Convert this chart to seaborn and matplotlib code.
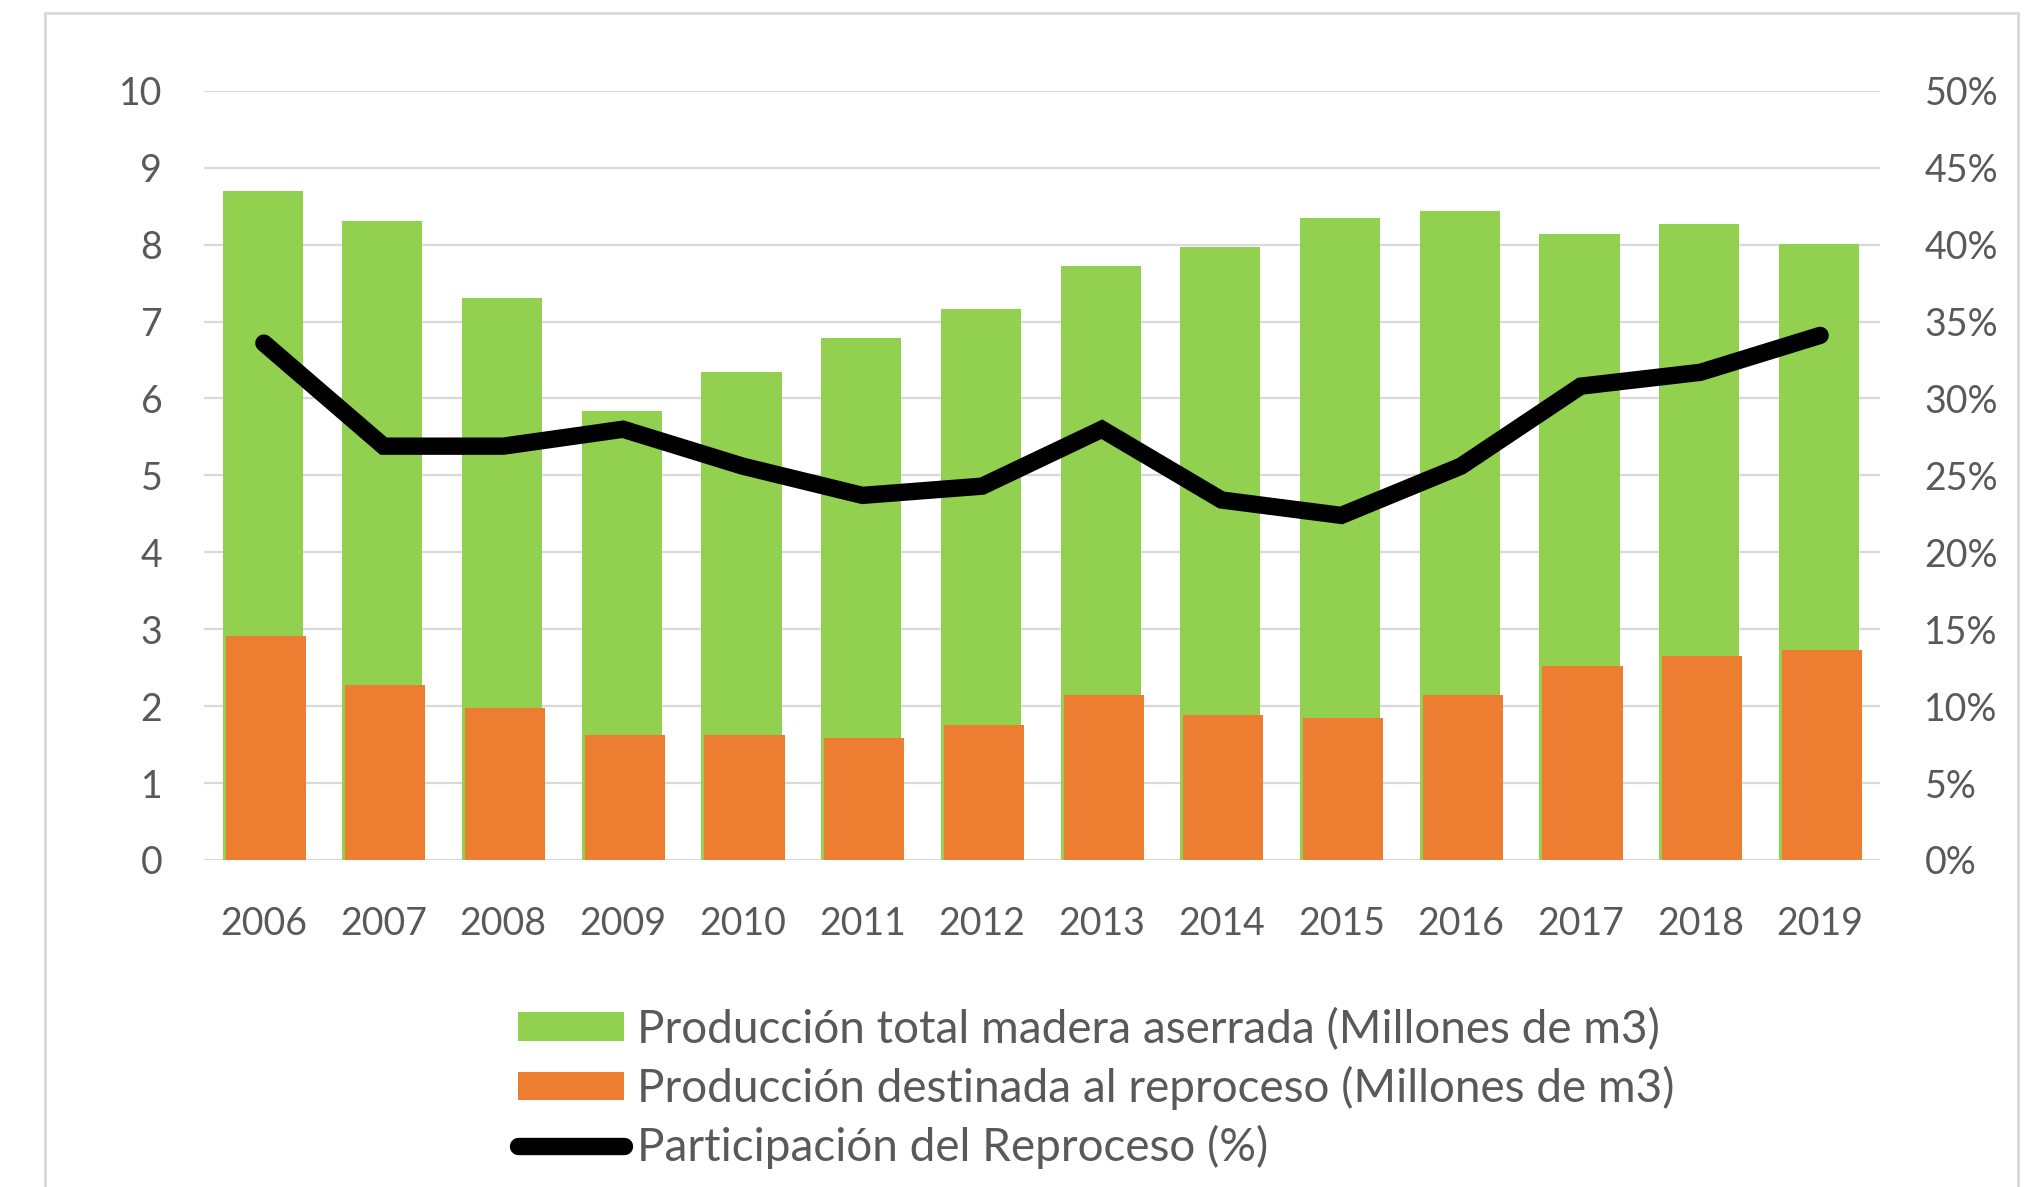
import numpy as np
import pandas as pd
import seaborn as sns
import matplotlib.pyplot as plt
from matplotlib.patches import Rectangle
from matplotlib.ticker import PercentFormatter

years = ['2006', '2007', '2008', '2009', '2010', '2011', '2012',
         '2013', '2014', '2015', '2016', '2017', '2018', '2019']
total = [8.70, 8.31, 7.30, 5.84, 6.35, 6.78, 7.16,
         7.72, 7.97, 8.35, 8.44, 8.14, 8.27, 8.01]
reproceso = [2.91, 2.27, 1.97, 1.62, 1.62, 1.59, 1.75,
             2.14, 1.89, 1.84, 2.14, 2.52, 2.65, 2.73]
participacion = [33.6, 26.9, 26.9, 28.0, 25.6, 23.7, 24.3,
                 28.0, 23.4, 22.4, 25.6, 30.8, 31.7, 34.1]

lab_total = 'Producción total madera aserrada (Millones de m3)'
lab_rep = 'Producción destinada al reproceso (Millones de m3)'
lab_part = 'Participación del Reproceso (%)'

df = pd.DataFrame({'year': years, 'total': total, 'rep': reproceso,
                   'part': np.array(participacion) / 100})

sns.set_style('white')
plt.rcParams['font.family'] = ['Lato', 'DejaVu Sans']

green = '#92D050'
orange = '#ED7D31'
grid = '#D9D9D9'
txt = '#595959'

fig = plt.figure(figsize=(20.3, 11.87), dpi=100)
ax = fig.add_axes([0.1005, 0.2755, 0.8256, 0.648])

sns.barplot(data=df, x='year', y='total', color=green, width=0.67,
            saturation=1, ax=ax, linewidth=0, edgecolor='none')
sns.barplot(data=df, x='year', y='rep', color=orange, width=0.67,
            saturation=1, ax=ax, linewidth=0, edgecolor='none')
# Excel-like slight overlap offset
for p in ax.containers[0]:
    p.set_x(p.get_x() - 0.01)
for p in ax.containers[1]:
    p.set_x(p.get_x() + 0.015)

ax.set_xlim(-0.5, len(years) - 0.5)
ax.set_ylim(0, 10)
ax.set_yticks(range(0, 11))
ax.yaxis.grid(True, color=grid, linewidth=1.6)
ax.set_axisbelow(True)
ax.set_xlabel('')
ax.set_ylabel('')
sns.despine(ax=ax, left=True, bottom=True)
ax.tick_params(axis='y', length=0, pad=30, labelsize=27, labelcolor=txt)
ax.tick_params(axis='x', length=0, pad=33, labelsize=27, labelcolor=txt)

ax2 = ax.twinx()
sns.lineplot(x=np.arange(len(years)), y=df['part'], color='black',
             linewidth=12.5, ax=ax2, solid_capstyle='round',
             solid_joinstyle='miter', legend=False)
ax2.set_ylim(0, 0.5)
ax2.set_yticks(np.arange(0, 0.51, 0.05))
ax2.yaxis.set_major_formatter(PercentFormatter(1.0, decimals=0))
ax2.set_ylabel('')
sns.despine(ax=ax2, left=True, bottom=True, right=True)
ax2.tick_params(axis='y', length=0, pad=32, labelsize=27, labelcolor=txt)
ax2.grid(False)

# outer chart frame
fig.patches.append(Rectangle((0.0222, -0.05), 0.9718, 1.0394,
                             transform=fig.transFigure, fill=False,
                             edgecolor=grid, linewidth=2))

handles = [ax.containers[0], ax.containers[1], ax2.lines[0]]
labels = [lab_total, lab_rep, lab_part]
fig.legend(handles, labels, loc='upper left', bbox_to_anchor=(0.255, 0.151),
           frameon=False, fontsize=33, labelcolor=txt, handlelength=2.31,
           handleheight=0.57, handletextpad=0.3, labelspacing=0.33,
           borderpad=0, borderaxespad=0)

fig.savefig('out.png', dpi=100)
